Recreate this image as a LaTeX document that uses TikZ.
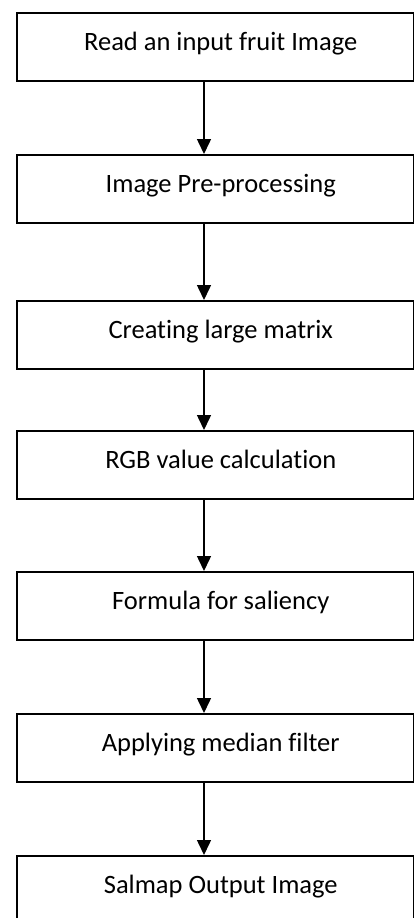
\documentclass[tikz,border=0pt]{standalone}
\usepackage{fontspec}
\setmainfont{Carlito}[Ligatures={NoCommon}]
\usetikzlibrary{arrows.meta,calc}
\begin{document}
\begin{tikzpicture}[x=1pt,y=-1pt,
  box/.style={draw=black,line width=1.5pt,rectangle,minimum width=397pt,minimum height=68pt,inner sep=0pt,anchor=north west},
  txt/.style={anchor=base,inner sep=0pt,font=\fontsize{26.5}{30}\selectfont},
  arr/.style={line width=1.5pt,-{Triangle[width=14pt,length=15pt]}}]
\useasboundingbox (0,0) rectangle (414,918);
\coordinate (ax) at (204,0);
\node[box] (b1) at (16,12) {};
\node[box] (b2) at (16,154) {};
\node[box] (b3) at (16,300) {};
\node[box] (b4) at (16,430) {};
\node[box] (b5) at (16,571) {};
\node[box] (b6) at (16,713) {};
\node[box,minimum height=80pt] (b7) at (16,855) {};
\node[txt] (t1) at ($(b1.north)+(5.5,38)$) {Read an input fruit Image};
\node[txt] (t2) at ($(b2.north)+(5.5,38)$) {Image Pre-processing};
\node[txt] (t3) at ($(b3.north)+(5.5,38)$) {Creating large matrix};
\node[txt] (t4) at ($(b4.north)+(5.5,38)$) {RGB value calculation};
\node[txt] (t5) at ($(b5.north)+(5.5,38)$) {Formula for saliency};
\node[txt] (t6) at ($(b6.north)+(5.5,38)$) {Applying median filter};
\node[txt] (t7) at ($(b7.north)+(5.5,38)$) {Salmap Output Image};
\draw[arr] (b1.south -| ax) -- (b2.north -| ax);
\draw[arr] (b2.south -| ax) -- (b3.north -| ax);
\draw[arr] (b3.south -| ax) -- (b4.north -| ax);
\draw[arr] (b4.south -| ax) -- (b5.north -| ax);
\draw[arr] (b5.south -| ax) -- (b6.north -| ax);
\draw[arr] (b6.south -| ax) -- (b7.north -| ax);
\end{tikzpicture}
\end{document}
